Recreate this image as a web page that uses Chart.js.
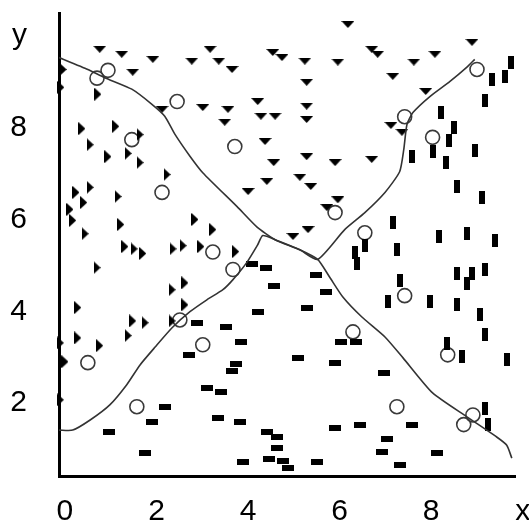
<!DOCTYPE html>
<html>
<head>
<meta charset="utf-8">
<script src="https://cdn.jsdelivr.net/npm/chart.js@4/dist/chart.umd.min.js"></script>
<style>
  html, body { margin: 0; padding: 0; background: #fff; }
  canvas { display: block; }
</style>
</head>
<body>
<canvas id="myChart" width="529" height="525"></canvas>
<script>
'use strict';

// tick labels (the 10 slot carries the axis letter)
const xTicks = [0, 2, 4, 6, 8, 10];
const yTicks = [2, 4, 6, 8, 10];
const xName = 'x';
const yName = 'y';

// right pointing triangles
const rightTri = [
    [-0.04, 9.27], [-0.09, 8.88], [0.72, 8.73], [0.37, 7.98], [1.11, 8.03], [0.55, 7.63],
    [1.64, 7.85], [0.94, 7.37], [1.38, 7.44], [1.64, 7.24], [2.23, 6.98], [0.55, 6.70],
    [0.24, 6.59], [0.41, 6.37], [0.11, 6.22], [0.17, 5.98], [1.16, 6.50], [1.22, 5.89],
    [0.44, 5.69], [2.84, 6.00], [3.23, 5.78], [1.31, 5.41], [1.51, 5.36], [1.70, 5.26],
    [2.36, 5.36], [2.58, 5.43], [2.97, 5.41], [3.73, 5.30], [0.70, 4.95], [2.34, 4.47],
    [2.62, 4.62], [0.28, 4.08], [1.48, 3.79], [1.75, 3.75], [2.62, 4.14], [1.38, 3.47],
    [0.28, 3.42], [0.76, 3.25], [0.00, 2.90], [-0.10, 3.31], [-0.10, 2.07], [2.34, 3.79]
];

// downward triangles
const downTri = [
    [0.76, 9.71], [1.24, 9.60], [1.92, 9.49], [1.48, 9.21], [2.77, 9.45], [3.17, 9.71],
    [3.36, 9.45], [3.65, 9.27], [2.12, 8.40], [3.01, 8.44], [3.56, 8.40], [3.49, 8.12],
    [4.21, 8.57], [4.28, 8.25], [4.59, 8.25], [4.37, 7.70], [4.56, 7.24], [4.41, 6.83],
    [4.00, 6.61], [4.54, 9.64], [4.74, 9.53], [6.18, 10.25], [5.24, 9.45], [5.96, 9.43],
    [6.70, 9.71], [6.83, 9.60], [7.62, 9.43], [8.08, 9.60], [7.16, 9.12], [5.28, 8.99],
    [5.28, 8.47], [5.28, 8.18], [7.88, 8.79], [7.12, 8.05], [7.36, 7.90], [5.28, 7.37],
    [5.90, 7.24], [6.70, 7.31], [5.13, 6.92], [5.37, 6.72], [5.96, 6.43], [5.72, 6.26],
    [5.31, 5.78], [4.98, 5.63], [8.89, 9.86]
];

// vertical dashes
const vDash = [
    [9.32, 9.05], [9.61, 9.12], [9.74, 9.43], [9.17, 8.60], [8.21, 8.33], [8.49, 8.01],
    [8.38, 7.72], [8.03, 7.48], [7.58, 7.37], [8.95, 7.50], [8.32, 7.24], [8.56, 6.72],
    [9.10, 6.48], [7.16, 5.93], [8.17, 5.63], [8.78, 5.69], [9.39, 5.54], [7.25, 5.34],
    [6.55, 5.43], [6.33, 5.28], [6.38, 5.04], [7.31, 4.67], [7.05, 4.21], [7.97, 4.21],
    [8.56, 4.82], [8.89, 4.82], [8.78, 4.60], [9.17, 4.91], [8.56, 4.14], [9.06, 3.93],
    [9.17, 3.49], [8.34, 3.29], [8.67, 3.01], [9.65, 2.94], [9.17, 1.89], [9.24, 1.53]
];

// horizontal dashes
const hDash = [
    [2.18, 1.91], [1.90, 1.59], [0.96, 1.37], [1.75, 0.91], [2.88, 3.75], [3.52, 3.66],
    [3.84, 3.33], [2.71, 3.05], [3.73, 2.85], [3.65, 2.70], [3.10, 2.33], [3.41, 2.24],
    [3.34, 1.68], [3.82, 1.59], [3.89, 0.72], [4.21, 3.99], [4.08, 5.04], [4.39, 4.95],
    [4.56, 4.54], [5.48, 4.80], [5.70, 4.42], [5.28, 4.08], [6.03, 3.33], [6.35, 3.33],
    [5.09, 2.99], [5.90, 2.88], [6.97, 2.66], [5.90, 1.46], [6.44, 1.52], [7.58, 1.52],
    [7.03, 1.22], [6.92, 0.93], [8.12, 0.91], [5.50, 0.72], [7.31, 0.65], [4.41, 1.37],
    [4.63, 1.26], [4.63, 1.02], [4.45, 0.78], [4.76, 0.74], [4.87, 0.58]
];

// open markers
const rings = [
    [0.94, 9.25], [0.70, 9.08], [2.45, 8.57], [1.46, 7.74], [3.71, 7.59], [2.12, 6.59],
    [3.23, 5.29], [9.00, 9.27], [7.42, 8.24], [8.03, 7.79], [5.90, 6.15], [6.55, 5.71],
    [3.67, 4.91], [2.51, 3.81], [3.01, 3.27], [0.50, 2.88], [1.57, 1.92], [6.29, 3.55],
    [7.42, 4.34], [8.36, 3.05], [7.25, 1.92], [8.91, 1.74], [8.71, 1.53]
];

// boundary curves
const curveDown = [
    [-0.13, 9.53], [0.50, 9.27], [0.87, 9.09], [1.46, 8.84], [1.90, 8.51], [2.18, 8.25],
    [2.40, 7.86], [2.73, 7.38], [3.01, 7.02], [3.76, 6.28], [4.19, 5.84], [4.59, 5.56],
    [5.13, 5.34], [5.52, 5.13], [5.79, 4.73], [6.07, 4.31], [6.48, 3.88], [6.99, 3.44],
    [7.38, 2.99], [8.03, 2.22], [8.78, 1.70], [9.43, 1.26], [9.65, 1.08], [9.76, 0.80]
];
const curveUp = [
    [-0.13, 1.41], [0.17, 1.41], [0.55, 1.63], [0.98, 1.96], [1.35, 2.40], [1.64, 2.83],
    [1.97, 3.22], [2.34, 3.64], [2.73, 3.99], [3.10, 4.25], [3.45, 4.47], [3.67, 4.69],
    [3.97, 5.06], [4.21, 5.45], [4.32, 5.65], [4.59, 5.56], [5.13, 5.34], [5.52, 5.13],
    [6.11, 5.78], [6.55, 6.15], [6.99, 6.59], [7.31, 7.04], [7.40, 7.52], [7.47, 8.07],
    [7.60, 8.33], [7.97, 8.68], [8.41, 9.01], [8.78, 9.32], [8.95, 9.49]
];

function toPoints(arr) {
    return arr.map(p => ({ x: p[0], y: p[1] }));
}

function marker(w, h, draw) {
    const c = document.createElement('canvas');
    c.width = w;
    c.height = h;
    const g = c.getContext('2d');
    g.fillStyle = '#000';
    draw(g, w, h);
    return c;
}

const triRight = marker(7, 13, (g, w, h) => {
    g.beginPath(); g.moveTo(0, 0); g.lineTo(w, h / 2); g.lineTo(0, h); g.closePath(); g.fill();
});
const triDown = marker(13, 7, (g, w, h) => {
    g.beginPath(); g.moveTo(0, 0); g.lineTo(w, 0); g.lineTo(w / 2, h); g.closePath(); g.fill();
});
const barV = marker(6, 13, (g, w, h) => g.fillRect(0, 0, w, h));
const barH = marker(12, 6, (g, w, h) => g.fillRect(0, 0, w, h));

function markSet(arr, style) {
    return {
        type: 'scatter',
        data: toPoints(arr),
        pointStyle: style,
        pointRadius: 6,
        showLine: false,
        clip: false
    };
}

function curveSet(arr) {
    return {
        type: 'scatter',
        data: toPoints(arr),
        showLine: true,
        borderColor: '#333',
        borderWidth: 1.6,
        pointRadius: 0,
        tension: 0.2,
        fill: false
    };
}

const tickFont = { family: 'Liberation Sans', size: 30 };

const ctx = document.getElementById('myChart').getContext('2d');

new Chart(ctx, {
    type: 'scatter',
    data: {
        datasets: [
            curveSet(curveDown),
            curveSet(curveUp),
            markSet(rightTri, triRight),
            markSet(downTri, triDown),
            markSet(vDash, barV),
            markSet(hDash, barH),
            {
                type: 'scatter',
                data: toPoints(rings),
                pointStyle: 'circle',
                pointRadius: 7,
                borderColor: '#3a3a3a',
                borderWidth: 1.6,
                backgroundColor: 'rgba(0,0,0,0)',
                showLine: false
            }
        ]
    },
    options: {
        responsive: false,
        animation: false,
        layout: { padding: { top: 13, right: 14, left: 0, bottom: 0 } },
        plugins: {
            legend: { display: false },
            tooltip: { enabled: false }
        },
        scales: {
            x: {
                type: 'linear',
                min: -0.13,
                max: 9.83,
                grid: { display: false, drawTicks: false },
                border: { display: true, color: '#000', width: 3 },
                afterBuildTicks: s => { s.ticks = xTicks.map(v => ({ value: v })); },
                afterFit: s => {
                    s.height = 49;
                    s.paddingLeft = 0; s.paddingRight = 0;
                },
                ticks: {
                    autoSkip: false,
                    maxRotation: 0,
                    padding: 18,
                    color: '#000',
                    font: tickFont,
                    callback: v => v === 10 ? xName : String(v)
                }
            },
            y: {
                type: 'linear',
                min: 0.41,
                max: 10.5,
                grid: { display: false, drawTicks: false },
                border: { display: true, color: '#000', width: 3 },
                afterBuildTicks: s => { s.ticks = yTicks.map(v => ({ value: v })); },
                afterFit: s => {
                    s.width = 59;
                    s.paddingTop = 0; s.paddingBottom = 0;
                },
                ticks: {
                    autoSkip: false,
                    padding: 32,
                    color: '#000',
                    font: tickFont,
                    callback: v => v === 10 ? yName : String(v)
                }
            }
        }
    }
});
</script>
</body>
</html>
